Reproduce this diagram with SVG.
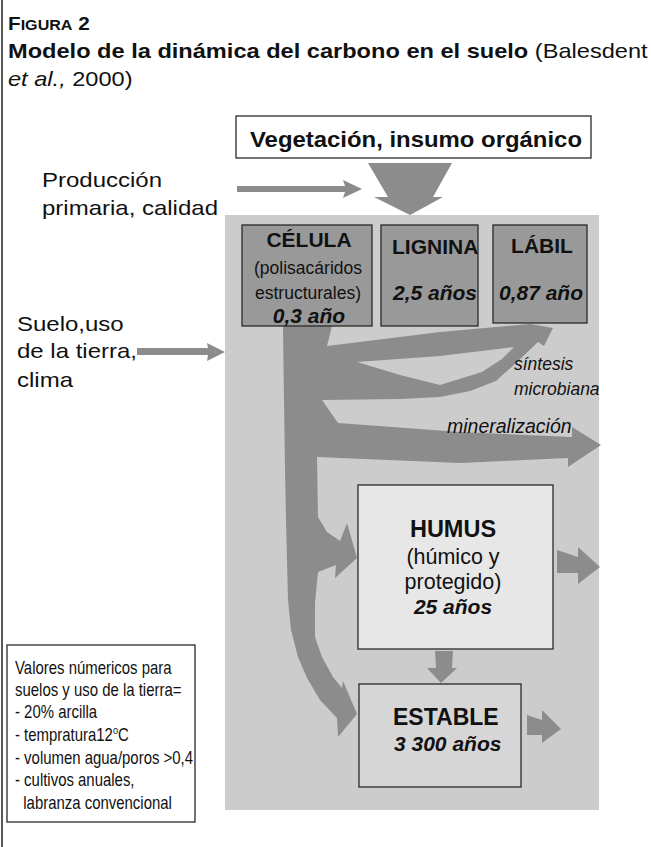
<svg xmlns="http://www.w3.org/2000/svg" width="651" height="847" viewBox="0 0 651 847">
<style>
text{font-family:"Liberation Sans",Arial,sans-serif;fill:#111}
.b{font-weight:bold}
.i{font-style:italic}
.bi{font-weight:bold;font-style:italic}
.box{stroke:#2a2a2a;stroke-width:1.3}
.arr{fill:#8c8c8c}
.c{text-anchor:middle}
</style>
<rect width="651" height="847" fill="#fff"/>
<line x1="2" y1="0" x2="2" y2="847" stroke="#222" stroke-width="1.5"/>

<g id="title">
<g transform="translate(8,0) scale(1.15,1)">
<text y="30" class="b"><tspan font-size="18">F</tspan><tspan font-size="14">IGURA</tspan><tspan font-size="18"> 2</tspan></text>
</g>
<g transform="translate(8,0) scale(1.18,1)">
<text y="58" font-size="20"><tspan class="b">Modelo de la dinámica del carbono en el suelo</tspan> (Balesdent</text>
<text y="86" font-size="20"><tspan class="i">et al.,</tspan> 2000)</text>
</g>
</g>

<rect id="background" x="225" y="215" width="374" height="595" fill="#cccccc"/>

<g id="connectors">
<polygon class="arr" points="368,163 452,163 433,197 443,197 410,215 374,197 388,197"/>
<polygon class="arr" points="237,186 345,186 343,180 362,189 343,198 345,192 237,192"/>
<polygon class="arr" points="137,348 208,348 207,343 225,352 207,361 208,355 137,355"/>
<path class="arr" fill-rule="evenodd" d="M283,326 L332,326 L327,346 L440,332 L530,324 L553,328 L544,346 L538,342 L517,362 L496,381 L470,391 L440,397 L400,399 L322,400 L338,423 L460,432 L572,437 L572,427 L601,445 L568,467 L568,458 L460,463 L317,457 L318,517 L327,532 L340,541 L347,523 L357,558 L335,578 L336,565 L318,572 L315,603 L315,637 L322,657 L333,677 L342,688 L343,681 L357,714 L338,737 L337,718 L320,700 L307,678 L298,657 L291,630 L288,600 L286,520 L285,470 L284,400 Z M357,362 L440,356 L514,347 L502,359 L482,372 L440,385 L400,375 Z"/>
<polygon class="arr" points="557,550 578,557 578,547 600,567 578,584 578,573 557,573"/>
<polygon class="arr" points="435,651 453,651 452,668 457,668 441,683 427,668 436,668"/>
<polygon class="arr" points="527,715 542,720 542,710 561,729 542,743 542,735 527,735"/>
</g>

<g id="vegetacion">
<rect class="box" x="236" y="116" width="355" height="42" fill="#fff"/>
<text x="250" y="147" font-size="22.5" class="b" textLength="332" lengthAdjust="spacingAndGlyphs">Vegetación, insumo orgánico</text>
</g>

<g id="produccion">
<g transform="translate(42,0) scale(1.2,1)">
<text x="0" y="187" font-size="20">Producción</text>
<text x="0" y="215" font-size="20">primaria, calidad</text>
</g>
</g>

<g id="suelo">
<g transform="translate(17,0) scale(1.2,1)">
<text x="0" y="331" font-size="20">Suelo,uso</text>
<text x="0" y="358" font-size="20">de la tierra,</text>
<text x="0" y="387" font-size="20">clima</text>
</g>
</g>

<g id="celula">
<rect class="box" x="242" y="225" width="130" height="101" fill="#999"/>
<text x="309" y="247" font-size="21" class="b c">CÉLULA</text>
<text x="308" y="274" font-size="17.5" class="c">(polisacáridos</text>
<text x="308" y="299" font-size="17.5" class="c">estructurales)</text>
<text x="309" y="323" font-size="21" class="bi c">0,3 año</text>
</g>

<g id="lignina">
<rect class="box" x="381" y="225" width="97" height="101" fill="#999"/>
<text x="392" y="254" font-size="21" class="b">LIGNINA</text>
<text x="393" y="300" font-size="21" class="bi">2,5 años</text>
</g>

<g id="labil">
<rect class="box" x="493" y="225" width="94" height="98" fill="#999"/>
<text x="542" y="253" font-size="21" class="b c">LÁBIL</text>
<text x="541" y="300" font-size="21" class="bi c">0,87 año</text>
</g>

<g id="labels">
<text x="514" y="370" font-size="17.5" class="i">síntesis</text>
<text x="514" y="395" font-size="17.5" class="i">microbiana</text>
<text x="447" y="433" font-size="19.5" class="i">mineralización</text>
</g>

<g id="humus">
<rect class="box" x="358" y="485" width="195" height="164" fill="#e7e7e7"/>
<text x="453" y="537" font-size="23.5" class="b c">HUMUS</text>
<text x="453" y="564" font-size="21.5" class="c">(húmico y</text>
<text x="453" y="589" font-size="21.5" class="c">protegido)</text>
<text x="453" y="614" font-size="21" class="bi c">25 años</text>
</g>

<g id="estable">
<rect class="box" x="359" y="684" width="162" height="103" fill="#d6d6d6"/>
<text x="393" y="725" font-size="23" class="b">ESTABLE</text>
<text x="394" y="751" font-size="21" class="bi">3 300 años</text>
</g>

<g id="valores">
<rect class="box" x="7" y="645" width="188" height="177" fill="#fff"/>
<g transform="translate(15,0) scale(0.83,1)" font-size="18">
<text x="0" y="674">Valores númericos para</text>
<text x="0" y="696">suelos y uso de la tierra=</text>
<text x="0" y="718">- 20% arcilla</text>
<text x="0" y="741">- tempratura12<tspan dy="-7" font-size="11">o</tspan><tspan dy="7">C</tspan></text>
<text x="0" y="764">- volumen agua/poros &gt;0,4</text>
<text x="0" y="786">- cultivos anuales,</text>
<text x="10" y="809">labranza  convencional</text>
</g>
</g>
</svg>
